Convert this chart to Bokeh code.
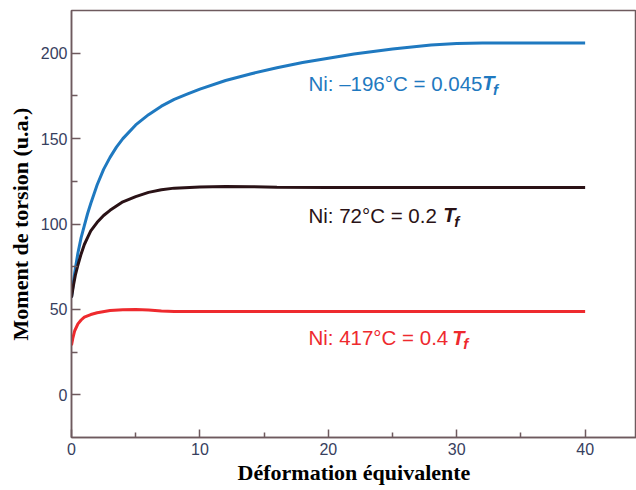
from bokeh.plotting import figure
from bokeh.models import Range1d, FixedTicker, Label
from bokeh.embed import file_html
from bokeh.resources import INLINE

# ---- data ----
strain_196 = [0, 0.15, 0.3, 0.5, 0.75, 1, 1.25, 1.5, 2, 2.5, 3, 3.5, 4, 5, 6, 7, 8, 9, 10, 12, 14, 16, 18, 20, 22, 25, 28, 30, 32, 35, 40]
torque_196 = [57, 66, 74, 83, 92, 99, 106, 112, 123, 132, 139, 145, 150, 158, 164, 169, 173, 176, 179, 184, 188, 191.5, 194.5, 197, 199.5, 202.5, 204.8, 205.7, 206, 206, 206]

strain_72 = [0, 0.15, 0.3, 0.5, 0.75, 1, 1.25, 1.5, 2, 2.5, 3, 4, 5, 6, 7, 8, 10, 12, 14, 16, 20, 25, 30, 35, 40]
torque_72 = [57, 64, 70, 76, 82.5, 88, 92, 96, 101, 105, 108, 113, 116, 118.5, 120, 121, 121.7, 122, 121.8, 121.5, 121.4, 121.4, 121.4, 121.4, 121.4]

strain_417 = [0, 0.1, 0.25, 0.5, 0.75, 1, 1.5, 2, 3, 4, 5, 6, 7, 8, 10, 15, 20, 30, 40]
torque_417 = [29, 33, 37.5, 41.5, 43.8, 45.5, 47, 48, 49.3, 49.8, 49.9, 49.6, 49, 48.8, 48.8, 48.8, 48.8, 48.8, 48.8]

x_ticks = [0, 10, 20, 30, 40]
x_minor = [5, 15, 25, 35]
y_ticks = [0, 50, 100, 150, 200]
y_minor = [25, 75, 125, 175]

labels_main = ["Ni: \u2013196\u00b0C = 0.045", "Ni: 72\u00b0C = 0.2", "Ni: 417\u00b0C = 0.4"]

# ---- styles ----
BLUE = "#1f79c0"
DARK = "#2a1216"
RED = "#ee2a2e"
AX = "#6e5a5e"
TICKLBL = "#37405e"

p = figure(width=636, height=490, output_backend="svg", toolbar_location=None,
           x_range=Range1d(0, 44), y_range=Range1d(-25, 225),
           min_border_left=71, min_border_right=0, min_border_top=10, min_border_bottom=53)
p.grid.visible = False
p.background_fill_color = "white"
p.border_fill_color = "white"
p.outline_line_color = AX
p.outline_line_width = 1.5

p.line(strain_196, torque_196, line_color=BLUE, line_width=3)
p.line(strain_72, torque_72, line_color=DARK, line_width=3)
p.line(strain_417, torque_417, line_color=RED, line_width=3)

p.xaxis.ticker = FixedTicker(ticks=x_ticks, minor_ticks=x_minor)
p.yaxis.ticker = FixedTicker(ticks=y_ticks, minor_ticks=y_minor)

for ax in (p.xaxis[0], p.yaxis[0]):
    ax.axis_line_color = AX
    ax.axis_line_width = 1.5
    ax.major_tick_line_color = AX
    ax.minor_tick_line_color = AX
    ax.major_tick_line_width = 1.5
    ax.minor_tick_line_width = 1.5
    ax.major_tick_out = 0
    ax.minor_tick_out = 0
    ax.major_label_text_font = "Liberation Sans"
    ax.major_label_text_font_size = "16px"
    ax.major_label_text_color = TICKLBL
    ax.axis_label_text_font = "Liberation Serif"
    ax.axis_label_text_font_style = "bold"
    ax.axis_label_text_font_size = "22px"
    ax.axis_label_text_color = "black"

p.xaxis.major_tick_in = 8
p.xaxis.minor_tick_in = 5
p.yaxis.major_tick_in = 9
p.yaxis.minor_tick_in = 6
p.xaxis.major_label_standoff = 5
p.yaxis.major_label_standoff = 4
p.xaxis.axis_label_standoff = 2
p.yaxis.axis_label_standoff = 5
p.xaxis.axis_label = "D\u00e9formation \u00e9quivalente"
p.yaxis.axis_label = "Moment de torsion (u.a.)"

# ---- curve annotations ----
colors = [BLUE, DARK, RED]
main_x = [18.45, 18.45, 18.45]
main_y = [182.3, 105.0, 33.5]
t_x = [31.98, 28.95, 29.65]
f_dx = 0.85
for txt, c, mx, my, tx in zip(labels_main, colors, main_x, main_y, t_x):
    p.add_layout(Label(x=mx, y=my, text=txt, text_color=c, text_font="Liberation Sans",
                       text_font_size="20.5px", text_baseline="alphabetic", text_align="left"))
    p.add_layout(Label(x=tx, y=my, text="T", text_color=c, text_font="Liberation Sans",
                       text_font_style="bold italic", text_font_size="20px",
                       text_baseline="alphabetic", text_align="left"))
    p.add_layout(Label(x=tx + f_dx, y=my - 3.6, text="f", text_color=c, text_font="Liberation Sans",
                       text_font_style="bold italic", text_font_size="15px",
                       text_baseline="alphabetic", text_align="left"))

open("out.html", "w").write(file_html(p, INLINE))
